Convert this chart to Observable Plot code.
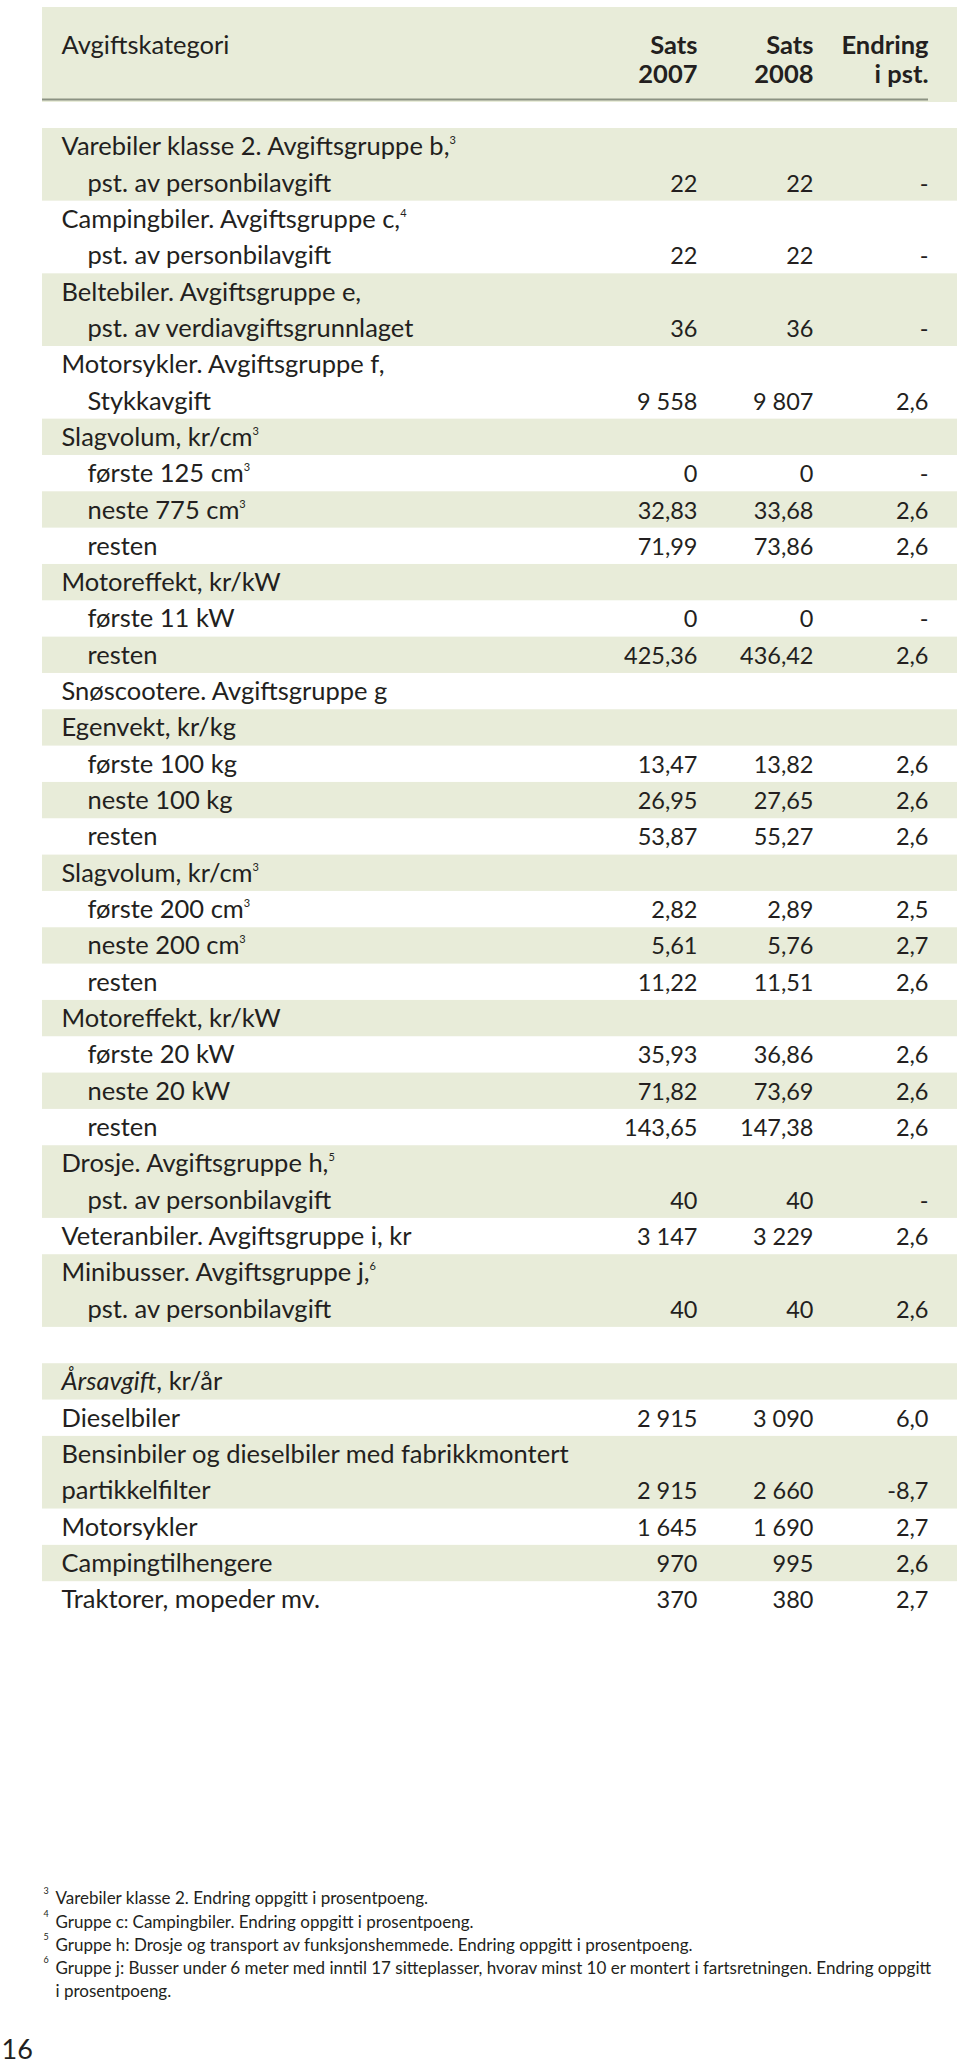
<!DOCTYPE html>
<html><head><meta charset="utf-8">
<script src="https://cdn.jsdelivr.net/npm/d3@7"></script>
<script src="https://cdn.jsdelivr.net/npm/@observablehq/plot@0.6"></script>
<style>
html,body{margin:0;padding:0;background:#fff;}
#chart svg{display:block;}
</style></head><body><div id="chart"></div>
<script>
// ---------------- data ----------------
const headTop    = ["Avgiftskategori", "Sats", "Sats", "Endring"];
const headBottom = ["", "2007", "2008", "i pst."];

const labels1 = [
  "Varebiler klasse 2. Avgiftsgruppe b,³", "pst. av personbilavgift",
  "Campingbiler. Avgiftsgruppe c,⁴", "pst. av personbilavgift",
  "Beltebiler. Avgiftsgruppe e,", "pst. av verdiavgiftsgrunnlaget",
  "Motorsykler. Avgiftsgruppe f,", "Stykkavgift",
  "Slagvolum, kr/cm³", "første 125 cm³", "neste 775 cm³", "resten",
  "Motoreffekt, kr/kW", "første 11 kW", "resten",
  "Snøscootere. Avgiftsgruppe g",
  "Egenvekt, kr/kg", "første 100 kg", "neste 100 kg", "resten",
  "Slagvolum, kr/cm³", "første 200 cm³", "neste 200 cm³", "resten",
  "Motoreffekt, kr/kW", "første 20 kW", "neste 20 kW", "resten",
  "Drosje. Avgiftsgruppe h,⁵", "pst. av personbilavgift",
  "Veteranbiler. Avgiftsgruppe i, kr",
  "Minibusser. Avgiftsgruppe j,⁶", "pst. av personbilavgift"
];
const indent1 = [0,1, 0,1, 0,1, 0,1, 0,1,1,1, 0,1,1, 0, 0,1,1,1, 0,1,1,1, 0,1,1,1, 0,1, 0, 0,1];
const cont1   = [0,1, 0,1, 0,1, 0,1, 0,0,0,0, 0,0,0, 0, 0,0,0,0, 0,0,0,0, 0,0,0,0, 0,1, 0, 0,1];
const sats2007_1 = [null,22, null,22, null,36, null,9558, null,0,32.83,71.99, null,0,425.36, null,
  null,13.47,26.95,53.87, null,2.82,5.61,11.22, null,35.93,71.82,143.65, null,40, 3147, null,40];
const sats2008_1 = [null,22, null,22, null,36, null,9807, null,0,33.68,73.86, null,0,436.42, null,
  null,13.82,27.65,55.27, null,2.89,5.76,11.51, null,36.86,73.69,147.38, null,40, 3229, null,40];
const endring_1  = [null,0, null,0, null,0, null,2.6, null,0,2.6,2.6, null,0,2.6, null,
  null,2.6,2.6,2.6, null,2.5,2.7,2.6, null,2.6,2.6,2.6, null,0, 2.6, null,2.6];

const labels2 = ["Årsavgift, kr/år", "Dieselbiler", "Bensinbiler og dieselbiler med fabrikkmontert",
  "partikkelfilter", "Motorsykler", "Campingtilhengere", "Traktorer, mopeder mv."];
const cont2      = [0,0,0,1,0,0,0];
const sats2007_2 = [null, 2915, null, 2915, 1645, 970, 370];
const sats2008_2 = [null, 3090, null, 2660, 1690, 995, 380];
const endring_2  = [null, 6.0, null, -8.7, 2.7, 2.6, 2.7];

const footMarks = ["3", "4", "5", "6"];
const footTexts = [
  "Varebiler klasse 2. Endring oppgitt i prosentpoeng.",
  "Gruppe c: Campingbiler. Endring oppgitt i prosentpoeng.",
  "Gruppe h: Drosje og transport av funksjonshemmede. Endring oppgitt i prosentpoeng.",
  "Gruppe j: Busser under 6 meter med inntil 17 sitteplasser, hvorav minst 10 er montert i fartsretningen. Endring oppgitt\ni prosentpoeng."
];
const pageNumber = "16";

// ---------------- layout ----------------
const ROW = 36.33, TOP = 128;            // slot scale: slot 0 starts at TOP px
const px = v => (v - TOP) / ROW;          // px -> slot units (layout only)
const COL = {bandL: 42, bandR: 957, label: 61, indent: 87, s2007: 697, s2008: 813, change: 928};
const SECTION2 = 34;
const BASE = 0.735;
const BAND = "#e8ecd9", INK = "#231f20";
const LABEL_SIZE = 25.5, VALUE_SIZE = 23.5;

const loc = d3.formatLocale({decimal: ",", thousands: "\u00a0", grouping: [3], currency: ["", ""], minus: "-"});
const fInt = loc.format(",d"), f2 = loc.format(",.2f"), f1 = loc.format(",.1f");
const fmtSats = v => v == null ? "" : Number.isInteger(v) ? fInt(v) : f2(v);
const fmtChg  = v => v == null ? "" : v === 0 ? "-" : f1(v);

function build(labels, indent, cont, a, b, c, start) {
  const rows = [], shades = [];
  let entry = -1;
  labels.forEach((label, i) => {
    if (!cont[i]) {
      entry++;
      if (entry % 2 === 0) shades.push({y1: start + i, y2: start + i + 1});
    } else if (entry % 2 === 0) {
      shades[shades.length - 1].y2 = start + i + 1;
    }
    rows.push({slot: start + i, label, indent: indent ? indent[i] : 0,
      a: fmtSats(a[i]), b: fmtSats(b[i]), c: fmtChg(c[i])});
  });
  return {rows, shades};
}
const s1 = build(labels1, indent1, cont1, sats2007_1, sats2008_1, endring_1, 0);
const s2 = build(labels2, null, cont2, sats2007_2, sats2008_2, endring_2, SECTION2);
const rows = [...s1.rows, ...s2.rows];
const shades = [...s1.shades, ...s2.shades];

const headCols = [COL.label, COL.s2007, COL.s2008, COL.change];
const head = headTop.map((t, i) => ({t, b: headBottom[i], x: headCols[i], i}));
const headFirst = head.slice(0, 1), headRest = head.slice(1);

const footSlot0 = px(1900), footStep = 23.2 / ROW;
const foot = footTexts.map((t, i) => ({t, m: footMarks[i], slot: footSlot0 + i * footStep}));

// ---------------- plot ----------------
const chart = Plot.plot({
  width: 960, height: 2066, margin: 0,
  x: {type: "identity", axis: null},
  y: {type: "linear", domain: [0, 1], range: [TOP, TOP + ROW], axis: null},
  style: {fontFamily: "Lato, sans-serif", fontSize: LABEL_SIZE + "px", color: INK, background: "#fff", overflow: "visible"},
  marks: [
    Plot.rect([0], {x1: () => COL.bandL, x2: () => COL.bandR, y1: () => px(7), y2: () => px(102), fill: BAND}),
    Plot.rect(shades, {x1: () => COL.bandL, x2: () => COL.bandR, y1: "y1", y2: "y2", fill: BAND}),
    Plot.ruleY([px(99)], {x1: () => COL.bandL, x2: () => COL.change, stroke: "#8b9282", strokeWidth: 2}),
    Plot.text(headFirst, {x: "x", y: () => px(53), text: "t", lineAnchor: "bottom",
      textAnchor: "start", fontWeight: "normal", fill: INK}),
    Plot.text(headRest, {x: "x", y: () => px(53), text: "t", lineAnchor: "bottom",
      textAnchor: "end", fontWeight: "bold", fill: INK}),
    Plot.text(headRest, {x: "x", y: () => px(82), text: "b", lineAnchor: "bottom",
      textAnchor: "end", fontWeight: "bold", fill: INK}),
    Plot.text(rows, {x: d => d.indent ? COL.indent : COL.label, y: d => d.slot + BASE, text: "label",
      textAnchor: "start", lineAnchor: "bottom", fill: INK}),
    Plot.text(rows, {x: () => COL.s2007, y: d => d.slot + BASE, text: "a", textAnchor: "end", lineAnchor: "bottom", fontSize: VALUE_SIZE, fill: INK}),
    Plot.text(rows, {x: () => COL.s2008, y: d => d.slot + BASE, text: "b", textAnchor: "end", lineAnchor: "bottom", fontSize: VALUE_SIZE, fill: INK}),
    Plot.text(rows, {x: () => COL.change, y: d => d.slot + BASE, text: "c", textAnchor: "end", lineAnchor: "bottom", fontSize: VALUE_SIZE, fill: INK}),
    Plot.text(foot, {x: () => 43, y: d => d.slot - 7 / ROW, text: "m", textAnchor: "start", lineAnchor: "bottom",
      fontSize: 9, fill: INK}),
    Plot.text(foot, {x: () => 55, y: "slot", text: "t", textAnchor: "start", lineAnchor: "top", dy: -12.5,
      fontSize: 17, lineHeight: 1.36, fill: INK}),
    Plot.text([pageNumber], {x: () => 1, y: () => px(2058), text: d => d, textAnchor: "start", lineAnchor: "bottom",
      fontSize: 27, fill: INK})
  ]
});
document.getElementById("chart").appendChild(chart);

// rich-text touch-ups: superscript digits and the italic "Årsavgift"
const SUP = {"³": "3", "⁴": "4", "⁵": "5", "⁶": "6"};
const NS = "http://www.w3.org/2000/svg";
chart.querySelectorAll("text").forEach(el => {
  if (el.children.length) return;
  const s = el.textContent;
  const m = s.match(/[³⁴⁵⁶]$/);
  if (m) {
    el.textContent = "";
    const t1 = document.createElementNS(NS, "tspan"); t1.textContent = s.slice(0, -1);
    const t2 = document.createElementNS(NS, "tspan"); t2.textContent = SUP[m[0]];
    t2.setAttribute("font-size", "11"); t2.setAttribute("dy", "-11");
    el.append(t1, t2);
  } else if (s.startsWith("Årsavgift")) {
    el.textContent = "";
    const t1 = document.createElementNS(NS, "tspan"); t1.textContent = "Årsavgift"; t1.setAttribute("font-style", "italic");
    const t2 = document.createElementNS(NS, "tspan"); t2.textContent = s.slice("Årsavgift".length);
    el.append(t1, t2);
  }
});
</script></body></html>
